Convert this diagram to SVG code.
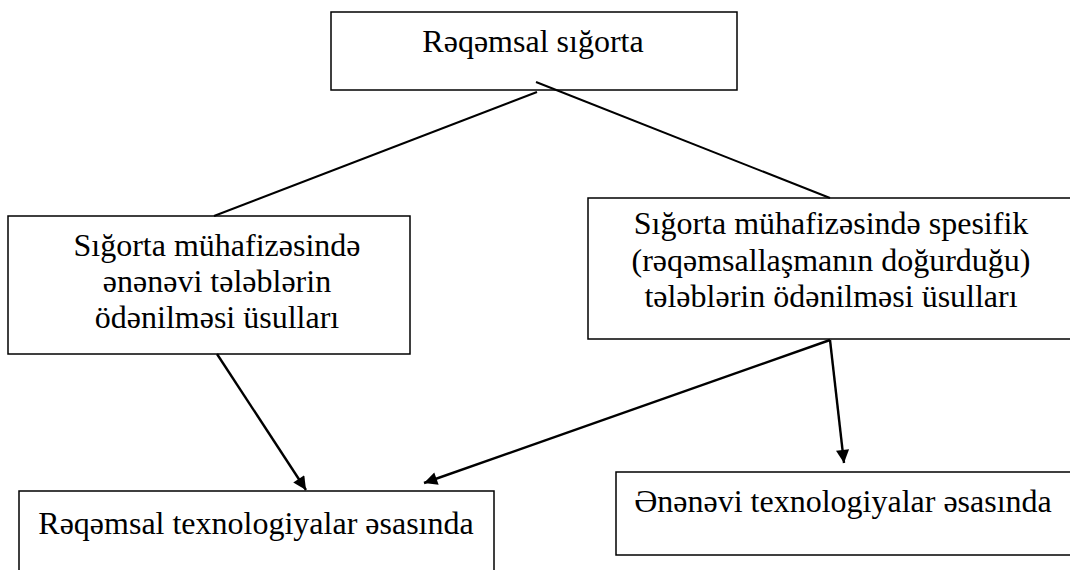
<svg xmlns="http://www.w3.org/2000/svg" width="1070" height="570" viewBox="0 0 1070 570">
<style>
.box{fill:#fff;stroke:#000;stroke-width:1.5}
.t{font-family:'Liberation Serif','Times New Roman',Times,'DejaVu Serif',serif;font-size:32px;fill:#000;text-anchor:middle}
.ln{stroke:#000;stroke-width:2;fill:none}
.ar{stroke:#000;stroke-width:2.4;fill:none}
</style>
<defs>
<marker id="ah" viewBox="0 0 10 10" refX="10" refY="5" markerWidth="7.5" markerHeight="5.5" markerUnits="strokeWidth" orient="auto">
<path d="M0,0 L10,5 L0,10 z" fill="#000"/>
</marker>
</defs>
<rect width="1070" height="570" fill="#fff"/>
<g id="node-top">
<rect class="box" x="331" y="12" width="406" height="78"/>
<text class="t" x="533" y="52">Rəqəmsal sığorta</text>
</g>
<g id="node-left">
<rect class="box" x="8" y="216" width="402" height="138"/>
<text class="t" x="217" y="256">Sığorta mühafizəsində</text>
<text class="t" x="217" y="292">ənənəvi tələblərin</text>
<text class="t" x="217" y="328">ödənilməsi üsulları</text>
</g>
<g id="node-right">
<rect class="box" x="588" y="198" width="490" height="141"/>
<text class="t" x="831" y="234">Sığorta mühafizəsində spesifik</text>
<text class="t" x="831" y="271">(rəqəmsallaşmanın doğurduğu)</text>
<text class="t" x="831" y="307">tələblərin ödənilməsi üsulları</text>
</g>
<g id="node-bottom-left">
<rect class="box" x="19" y="491" width="475" height="90"/>
<text class="t" x="256" y="534">Rəqəmsal texnologiyalar əsasında</text>
</g>
<g id="node-bottom-right">
<rect class="box" x="616" y="472" width="470" height="83"/>
<text class="t" x="843" y="512">Ənənəvi texnologiyalar əsasında</text>
</g>
<g id="connectors">
<line class="ln" x1="537" y1="92" x2="214" y2="216"/>
<line class="ln" x1="536" y1="82" x2="830" y2="198"/>
<line class="ar" x1="217" y1="354" x2="306" y2="490" marker-end="url(#ah)"/>
<line class="ar" x1="830" y1="340" x2="424" y2="483" marker-end="url(#ah)"/>
<line class="ar" x1="830" y1="340" x2="844" y2="463" marker-end="url(#ah)"/>
</g>
</svg>
